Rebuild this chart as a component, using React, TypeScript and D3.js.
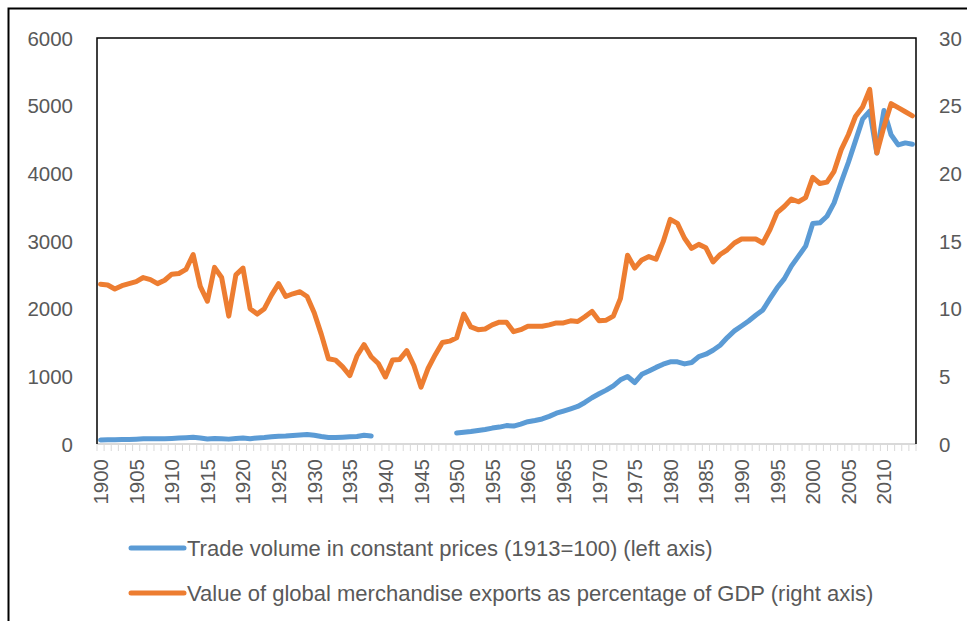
import React from 'react';
import * as d3 from 'd3';

const years: number[] = d3.range(1900, 2015);

// trade volume, constant prices (1913=100), left axis; null = no data
const tradeVolume: (number | null)[] = [
  60, 62, 64, 66, 68, 72, 76, 78, 76, 79,
  83, 88, 94, 100, 90, 75, 82, 78, 72, 82,
  88, 78, 90, 96, 106, 114, 118, 126, 132, 140,
  128, 110, 96, 96, 100, 106, 112, 130, 118, null,
  null, null, null, null, null, null, null, null, null, null,
  162, 175, 185, 200, 215, 235, 250, 272, 265, 295,
  330, 348, 370, 408, 455, 487, 520, 555, 614, 683,
  742, 796, 860, 948, 998, 909, 1030, 1078, 1132, 1179,
  1214, 1214, 1184, 1204, 1292, 1327, 1386, 1459, 1573, 1671,
  1744, 1818, 1902, 1981, 2148, 2309, 2440, 2629, 2776, 2924,
  3260, 3268, 3366, 3563, 3870, 4160, 4480, 4800, 4920, 4300,
  4930, 4570, 4420, 4450, 4430,
];

// merchandise exports as % of GDP, right axis
const exportShare: number[] = [
  11.8, 11.75, 11.45, 11.7, 11.85, 12.0, 12.3, 12.15, 11.85, 12.1,
  12.55, 12.6, 12.9, 14.0, 11.65, 10.55, 13.05, 12.3, 9.45, 12.5,
  13.0, 10.0, 9.6, 10.0, 11.0, 11.85, 10.9, 11.1, 11.25, 10.9,
  9.7, 8.1, 6.3, 6.2, 5.7, 5.05, 6.5, 7.35, 6.45, 5.95,
  4.95, 6.2, 6.25, 6.9, 5.8, 4.2, 5.6, 6.6, 7.5, 7.6,
  7.85, 9.6, 8.65, 8.45, 8.5, 8.8, 9.0, 9.0, 8.3, 8.45,
  8.7, 8.7, 8.7, 8.8, 8.95, 8.95, 9.1, 9.05, 9.4, 9.8,
  9.1, 9.15, 9.45, 10.75, 13.95, 13.0, 13.6, 13.85, 13.65, 14.95,
  16.6, 16.3, 15.2, 14.45, 14.75, 14.5, 13.45, 14.0, 14.35, 14.85,
  15.15, 15.15, 15.15, 14.85, 15.85, 17.1, 17.55, 18.1, 17.9, 18.2,
  19.7, 19.25, 19.35, 20.15, 21.75, 22.85, 24.2, 24.9, 26.2, 21.5,
  23.45, 25.15, 24.85, 24.55, 24.25,
];

const leftTicks = [0, 1000, 2000, 3000, 4000, 5000, 6000];
const rightTicks = [0, 5, 10, 15, 20, 25, 30];
const labelYears = years.filter(y => y % 5 === 0);

const legendItems = [
  { label: 'Trade volume in constant prices (1913=100) (left axis)', color: '#5B9BD5' },
  { label: 'Value of global merchandise exports as percentage of GDP (right axis)', color: '#ED7D31' },
];

export default function App() {
  const left = 97, right = 916, top = 38, bottom = 444;
  const font = '"Liberation Sans", Arial, sans-serif';
  const textColor = '#595959';

  const x = d3.scaleBand<number>().domain(years).range([left, right]).padding(0);
  const cx = (yr: number) => (x(yr) as number) + x.bandwidth() / 2;
  const yL = d3.scaleLinear().domain([0, 6000]).range([bottom, top]);
  const yR = d3.scaleLinear().domain([0, 30]).range([bottom, top]);

  const blueLine = d3.line<number>()
    .defined((_, i) => tradeVolume[i] != null)
    .x((_, i) => cx(years[i]))
    .y((_, i) => yL(tradeVolume[i] as number));

  const orangeLine = d3.line<number>()
    .x((_, i) => cx(years[i]))
    .y((_, i) => yR(exportShare[i]));

  const boundaries = d3.range(years.length + 1).map(i => left + i * x.bandwidth());

  return (
    <svg width={967} height={621} style={{ position: 'absolute', left: 0, top: 0, display: 'block' }}>
      <rect x={0} y={0} width={967} height={621} fill="#fff" />
      <rect x={8.5} y={8.5} width={1000} height={700} fill="none" stroke="#000" strokeWidth={2} />

      {/* category tick marks */}
      {boundaries.map((bx, i) => (
        <line key={i} x1={bx} x2={bx} y1={bottom} y2={bottom + 7} stroke="#D9D9D9" strokeWidth={1} />
      ))}
      <line x1={left} x2={right} y1={bottom} y2={bottom} stroke="#D9D9D9" strokeWidth={2} />

      {/* plot frame */}
      <path d={`M${left},${bottom}V${top}H${right}V${bottom}`} fill="none" stroke="#000" strokeWidth={1.5} />

      <path d={blueLine(years) || ''} fill="none" stroke="#5B9BD5" strokeWidth={5}
        strokeLinejoin="round" strokeLinecap="round" />
      <path d={orangeLine(years) || ''} fill="none" stroke="#ED7D31" strokeWidth={5}
        strokeLinejoin="round" strokeLinecap="round" />

      {leftTicks.map(t => (
        <text key={t} x={73} y={yL(t)} textAnchor="end" dominantBaseline="central"
          fontFamily={font} fontSize={20.5} fill={textColor}>{t}</text>
      ))}
      {rightTicks.map(t => (
        <text key={t} x={939} y={yR(t)} textAnchor="start" dominantBaseline="central"
          fontFamily={font} fontSize={20.5} fill={textColor}>{t}</text>
      ))}

      {labelYears.map(yr => (
        <text key={yr} transform={`translate(${cx(yr)},${bottom + 15}) rotate(-90)`}
          textAnchor="end" dominantBaseline="central"
          fontFamily={font} fontSize={20.5} fill={textColor}>{yr}</text>
      ))}

      {legendItems.map((d, i) => (
        <g key={d.label} transform={`translate(0,${548 + i * 45})`}>
          <line x1={131} x2={184} y1={0} y2={0} stroke={d.color} strokeWidth={5} strokeLinecap="round" />
          <text x={187} y={0} dominantBaseline="central" fontFamily={font} fontSize={22} fill={textColor}>{d.label}</text>
        </g>
      ))}
    </svg>
  );
}
